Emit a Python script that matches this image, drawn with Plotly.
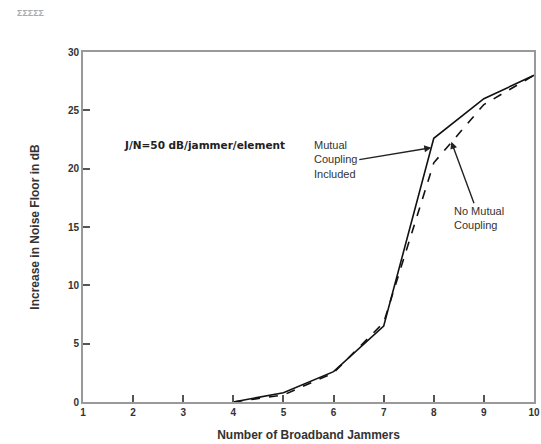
import plotly.graph_objects as go

jammers = [4, 5, 6, 7, 8, 9, 10]
mutual_coupling = [0.0, 0.8, 2.6, 6.5, 22.6, 26.0, 28.0]
no_mutual_coupling = [0.0, 0.6, 2.5, 6.8, 20.5, 25.5, 28.0]
x_ticks = [1, 2, 3, 4, 5, 6, 7, 8, 9, 10]
y_ticks = [0, 5, 10, 15, 20, 25, 30]

fig = go.Figure()
fig.add_trace(go.Scatter(x=jammers, y=mutual_coupling, mode="lines",
                         line=dict(color="#111", width=1.6), name="Mutual Coupling Included"))
fig.add_trace(go.Scatter(x=jammers, y=no_mutual_coupling, mode="lines",
                         line=dict(color="#111", width=1.6, dash="dash"), name="No Mutual Coupling"))

FAM = "Liberation Sans, Arial, sans-serif"
axis_common = dict(showgrid=False, zeroline=False, showline=True, linecolor="#999", linewidth=2,
                   mirror=True, ticks="inside", ticklen=7, tickcolor="#555", tickwidth=1.5,
                   automargin=False,
                   tickfont=dict(family=FAM, size=10, color="#333"))

fig.update_layout(
    width=541, height=444,
    margin=dict(l=83, r=7, t=52, b=42),
    paper_bgcolor="white", plot_bgcolor="white",
    showlegend=False,
    font=dict(family=FAM, size=10, color="#222"),
    xaxis=dict(range=[1, 10], tickvals=x_ticks, ticktext=[f"<b>{v}</b>" for v in x_ticks],
               title=dict(text="<b>Number of Broadband Jammers</b>", standoff=14,
                          font=dict(family=FAM, size=12, color="#333")), **axis_common),
    yaxis=dict(range=[0, 30], tickvals=y_ticks, ticktext=[f"<b>{v}</b>" for v in y_ticks],
               title=dict(text="<b>Increase in Noise Floor in dB</b>", standoff=26,
                          font=dict(family=FAM, size=12, color="#333")), **axis_common),
)

fig.add_annotation(xref="paper", yref="paper", x=-0.15, y=1.11, xanchor="left", yanchor="middle",
                   text="<b>ΣΣΣΣΣ</b>", showarrow=False,
                   font=dict(size=9, color="#aaa"))
fig.add_annotation(x=1.78, y=22.0, text="<b>J/N=50 dB/jammer/element</b>", showarrow=False,
                   xanchor="left", font=dict(family="DejaVu Sans, sans-serif", size=10.5, color="#222"))
fig.add_annotation(x=7.95, y=21.8, ax=-72, ay=12, text="Mutual<br>Coupling<br>Included",
                   showarrow=True, arrowhead=2, arrowsize=1, arrowwidth=1.4, arrowcolor="#222",
                   align="left", xanchor="right", font=dict(family=FAM, size=11, color="#333"))
fig.add_annotation(x=8.35, y=22.3, ax=28, ay=76, text="No Mutual<br>Coupling",
                   showarrow=True, arrowhead=2, arrowsize=1, arrowwidth=1.4, arrowcolor="#222",
                   align="left", font=dict(family=FAM, size=11, color="#333"))

fig.write_html("out.html", config={"displayModeBar": False},
               post_script="document.body.style.margin='0px';")
